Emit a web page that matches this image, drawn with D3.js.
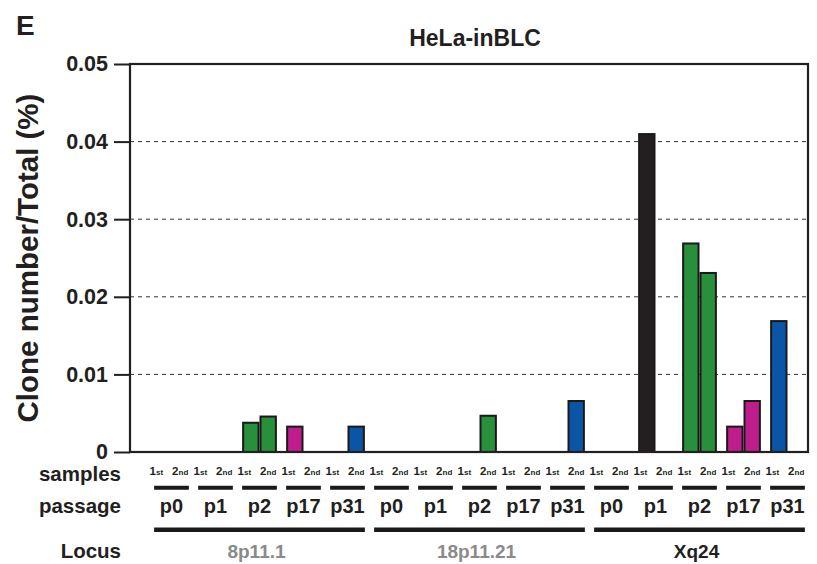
<!DOCTYPE html>
<html><head><meta charset="utf-8">
<script src="https://cdn.jsdelivr.net/npm/d3@7"></script>
<style>
html,body{margin:0;padding:0;background:#fff;}
text{font-family:"Liberation Sans",Arial,Helvetica,sans-serif;font-weight:bold;fill:#231f20;}
</style></head>
<body>
<svg id="chart" width="817" height="564"></svg>
<script>
// ---- data ----
const loci = ["8p11.1", "18p11.21", "Xq24"];
const passages = ["p0", "p1", "p2", "p17", "p31"];
const samples = ["1st", "2nd"];
// values per locus, ordered passage x sample (p0 1st, p0 2nd, p1 1st, ...)
const values8p = [0, 0, 0, 0, 0.0039, 0.0047, 0.0034, 0, 0, 0.0034];
const values18p = [0, 0, 0, 0, 0, 0.0048, 0, 0, 0, 0.0067];
const valuesXq = [0, 0, 0.0411, 0, 0.0270, 0.0232, 0.0034, 0.0067, 0.0170, 0];
const yTicks = [0, 0.01, 0.02, 0.03, 0.04, 0.05];
const passageColors = ["#231f20", "#231f20", "#288f3a", "#bf1c8c", "#0b55a6"];
const locusColors = ["#8a8a8a", "#8a8a8a", "#231f20"];
const title = "HeLa-inBLC";
const yLabel = "Clone number/Total (%)";
const panelLetter = "E";

const valuesByLocus = [values8p, values18p, valuesXq];
const groups = [];
loci.forEach(l => passages.forEach(p => groups.push(l + "|" + p)));
const bars = [];
loci.forEach((l, li) => passages.forEach((p, pi) => samples.forEach((s, si) => {
  bars.push({locus: l, passage: p, pi, sample: s, value: valuesByLocus[li][pi * 2 + si]});
})));

// ---- layout ----
const svg = d3.select("#chart");
const plotL = 130, plotR = 808, plotT = 64, plotB = 452;

const y = d3.scaleLinear().domain([0, 0.05]).range([plotB, plotT]);
const xg = d3.scaleBand().domain(groups).range([149.5, 809.5]).paddingInner(0.21).paddingOuter(0.105);
const xs = d3.scaleBand().domain(samples).range([0, xg.bandwidth()]).padding(0);

// gridlines
svg.append("g").selectAll("line").data(yTicks.filter(t => t > 0 && t < 0.05)).join("line")
  .attr("x1", plotL).attr("x2", plotR)
  .attr("y1", d => y(d)).attr("y2", d => y(d))
  .attr("stroke", "#333").attr("stroke-width", 1).attr("stroke-dasharray", "4,4");

// bars
svg.append("g").selectAll("rect").data(bars.filter(d => d.value > 0)).join("rect")
  .attr("x", d => xg(d.locus + "|" + d.passage) + xs(d.sample) + 1)
  .attr("width", xs.bandwidth() - 2)
  .attr("y", d => y(d.value) + 1)
  .attr("height", d => plotB - y(d.value) - 1)
  .attr("fill", d => passageColors[d.pi])
  .attr("stroke", "#1a1a1a").attr("stroke-width", 2);

// y axis
const yAxis = d3.axisLeft(y).tickValues(yTicks)
  .tickFormat(d => d === 0 ? "0" : d3.format(".2f")(d))
  .tickSize(16).tickPadding(6);
const gy = svg.append("g").attr("transform", `translate(${plotL},0)`).call(yAxis);
gy.select(".domain").remove();
gy.selectAll(".tick line").attr("stroke", "#231f20").attr("stroke-width", 2);
gy.selectAll(".tick text").attr("font-size", 21.5).attr("fill", "#231f20")
  .style("font-family", '"Liberation Sans",Arial,sans-serif').style("font-weight", "bold");

// frame
svg.append("rect").attr("x", plotL).attr("y", plotT).attr("width", plotR - plotL).attr("height", plotB - plotT)
  .attr("fill", "none").attr("stroke", "#231f20").attr("stroke-width", 2.2);

// title, y label, panel letter
svg.append("text").attr("x", 475).attr("y", 46).attr("text-anchor", "middle").attr("font-size", 23).text(title);
svg.append("text").attr("transform", `translate(38,258) rotate(-90)`).attr("text-anchor", "middle")
  .attr("font-size", 29.5).text(yLabel);
svg.append("text").attr("x", 16).attr("y", 35).attr("font-size", 28).text(panelLetter);

// row labels
const rowLabels = [["samples", 481], ["passage", 513], ["Locus", 558]];
svg.append("g").selectAll("text").data(rowLabels).join("text")
  .attr("x", 121).attr("y", d => d[1]).attr("text-anchor", "end").attr("font-size", 20.5).text(d => d[0]);

// sample labels
const sampleOffset = {"1st": -6.5, "2nd": 0};
const sl = svg.append("g").selectAll("text").data(bars).join("text")
  .attr("x", d => xg(d.locus + "|" + d.passage) + xs(d.sample) + xs.bandwidth() / 2 + sampleOffset[d.sample])
  .attr("y", 474.5).attr("text-anchor", "middle");
sl.append("tspan").attr("font-size", 11.5).text(d => d.sample.slice(0, 1));
sl.append("tspan").attr("font-size", 8).text(d => d.sample.slice(1));

// passage underlines + labels
const gdata = groups.map(g => ({key: g, passage: g.split("|")[1]}));
svg.append("g").selectAll("line").data(gdata).join("line")
  .attr("x1", d => xg(d.key)).attr("x2", d => xg(d.key) + xg.bandwidth())
  .attr("y1", 487.7).attr("y2", 487.7).attr("stroke", "#1a1a1a").attr("stroke-width", 4);
svg.append("g").selectAll("text").data(gdata).join("text")
  .attr("x", d => xg(d.key) + xg.bandwidth() / 2).attr("y", 513)
  .attr("text-anchor", "middle").attr("font-size", 20).text(d => d.passage);

// locus lines + labels
const ldata = loci.map((l, i) => ({locus: l, i, x1: xg(l + "|" + passages[0]), x2: xg(l + "|" + passages[passages.length - 1]) + xg.bandwidth()}));
svg.append("g").selectAll("line").data(ldata).join("line")
  .attr("x1", d => d.x1).attr("x2", d => d.x2)
  .attr("y1", 529.7).attr("y2", 529.7).attr("stroke", "#1a1a1a").attr("stroke-width", 4.5);
svg.append("g").selectAll("text").data(ldata).join("text")
  .attr("x", d => (d.x1 + d.x2) / 2 - 3).attr("y", 558).attr("text-anchor", "middle")
  .attr("font-size", 19).style("fill", d => locusColors[d.i]).text(d => d.locus);
</script>
</body></html>
